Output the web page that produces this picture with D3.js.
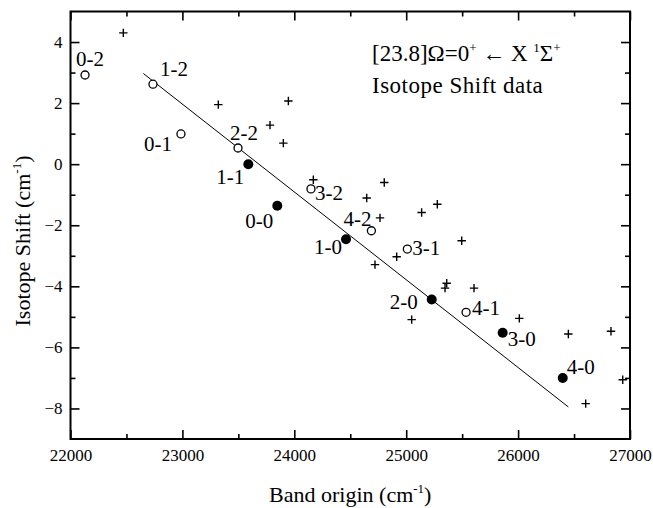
<!DOCTYPE html>
<html>
<head>
<meta charset="utf-8">
<script src="https://cdn.jsdelivr.net/npm/d3@7"></script>
<style>
  body { margin: 0; background: #fff; }
  svg { font-family: "Liberation Serif", "Times New Roman", serif; }
</style>
</head>
<body>
<div id="chart"></div>
<script>
// open circles: bands with v''=1,2
var openBands = ["0-2", "1-2", "0-1", "2-2", "3-2", "4-2", "3-1", "4-1"];
var openX = [22130, 22737, 22987, 23497, 24149, 24689, 25010, 25535];
var openY = [2.92, 2.62, 0.99, 0.53, -0.81, -2.18, -2.78, -4.85];

// filled circles: bands with v''=0
var filledBands = ["1-1", "0-0", "1-0", "2-0", "3-0", "4-0"];
var filledX = [23589, 23848, 24462, 25228, 25862, 26399];
var filledY = [0.0, -1.36, -2.46, -4.43, -5.52, -7.0];

// plus markers
var plusX = [22472, 23321, 23947, 23783, 23902, 24170, 24804, 24647, 25278, 25138, 24766, 25496,
             24915, 24721, 25362, 25347, 25606, 25049, 26011, 26449, 26830, 26935, 26604];
var plusY = [4.30, 1.95, 2.07, 1.28, 0.69, -0.51, -0.60, -1.11, -1.31, -1.58, -1.76, -2.51,
             -3.03, -3.29, -3.90, -4.06, -4.06, -5.09, -5.05, -5.56, -5.47, -7.06, -7.84];

// fitted line end points
var fitX = [22651, 26449];
var fitY = [2.97, -7.95];

var xTicks = [22000, 23000, 24000, 25000, 26000, 27000];
var yTicks = [-8, -6, -4, -2, 0, 2, 4];

// label placement relative to its point (pixels)
var labelOffset = {
    "0-2": [-9, -9], "1-2": [7, -8], "0-1": [-37, 17], "2-2": [-8, -8],
    "3-2": [4, 11], "4-2": [-28, -5], "3-1": [5, 6], "4-1": [6, 3],
    "1-1": [-32, 20], "0-0": [-32, 22], "1-0": [-32, 15], "2-0": [-42, 10],
    "3-0": [5, 13], "4-0": [4, -4]
};

var width = 653, height = 508;
var plotL = 70.5, plotR = 630, plotT = 11.5, plotB = 439;

var svg = d3.select("#chart").append("svg")
    .attr("width", width)
    .attr("height", height);

var x = d3.scaleLinear().domain([22000, 27000]).range([plotL, plotR]);
var y = d3.scaleLinear().domain([-9, 5]).range([plotB, plotT]);

var xMinor = d3.range(22500, 27000, 1000);
var yMinor = d3.range(-7, 5, 2);

// axes, ticks pointing inward
function styleAxis(g) {
    g.select(".domain").remove();
    g.selectAll(".tick line").attr("stroke", "#000").attr("stroke-width", 1.6);
    g.selectAll(".tick text").attr("fill", "#000").style("font-size", "17px")
        .style("font-family", "'Liberation Serif', 'Times New Roman', serif");
}

svg.append("g")
    .attr("transform", "translate(0," + plotB + ")")
    .call(d3.axisBottom(x).tickValues(xTicks).tickSize(-9).tickPadding(10).tickFormat(d3.format("d")))
    .call(styleAxis);
svg.append("g")
    .attr("transform", "translate(0," + plotB + ")")
    .call(d3.axisBottom(x).tickValues(xMinor).tickSize(-5).tickFormat(""))
    .call(styleAxis);
svg.append("g")
    .attr("transform", "translate(0," + plotT + ")")
    .call(d3.axisTop(x).tickValues(xTicks).tickSize(-9).tickFormat(""))
    .call(styleAxis);
svg.append("g")
    .attr("transform", "translate(0," + plotT + ")")
    .call(d3.axisTop(x).tickValues(xMinor).tickSize(-5).tickFormat(""))
    .call(styleAxis);

svg.append("g")
    .attr("transform", "translate(" + plotL + ",0)")
    .call(d3.axisLeft(y).tickValues(yTicks).tickSize(-9).tickPadding(8).tickFormat(d3.format("d")))
    .call(styleAxis);
svg.append("g")
    .attr("transform", "translate(" + plotL + ",0)")
    .call(d3.axisLeft(y).tickValues(yMinor).tickSize(-5).tickFormat(""))
    .call(styleAxis);
svg.append("g")
    .attr("transform", "translate(" + plotR + ",0)")
    .call(d3.axisRight(y).tickValues(yTicks).tickSize(-9).tickFormat(""))
    .call(styleAxis);
svg.append("g")
    .attr("transform", "translate(" + plotR + ",0)")
    .call(d3.axisRight(y).tickValues(yMinor).tickSize(-5).tickFormat(""))
    .call(styleAxis);

// frame
svg.append("rect")
    .attr("x", plotL).attr("y", plotT)
    .attr("width", plotR - plotL).attr("height", plotB - plotT)
    .attr("fill", "none").attr("stroke", "#000").attr("stroke-width", 2);

// fit line
svg.append("line")
    .attr("x1", x(fitX[0])).attr("y1", y(fitY[0]))
    .attr("x2", x(fitX[1])).attr("y2", y(fitY[1]))
    .attr("stroke", "#000").attr("stroke-width", 1);

// plus markers
var plus = d3.range(plusX.length);
svg.append("g").selectAll("path")
    .data(plus)
    .enter().append("path")
    .attr("d", function (i) {
        var px = x(plusX[i]), py = y(plusY[i]);
        return "M" + (px - 4.2) + "," + py + "H" + (px + 4.2) +
               "M" + px + "," + (py - 4.2) + "V" + (py + 4.2);
    })
    .attr("stroke", "#000").attr("stroke-width", 1.4).attr("fill", "none");

// open circles
svg.append("g").selectAll("circle")
    .data(d3.range(openBands.length))
    .enter().append("circle")
    .attr("cx", function (i) { return x(openX[i]); })
    .attr("cy", function (i) { return y(openY[i]); })
    .attr("r", 4)
    .attr("fill", "#fff").attr("stroke", "#000").attr("stroke-width", 1.3);

// filled circles
svg.append("g").selectAll("circle")
    .data(d3.range(filledBands.length))
    .enter().append("circle")
    .attr("cx", function (i) { return x(filledX[i]); })
    .attr("cy", function (i) { return y(filledY[i]); })
    .attr("r", 5)
    .attr("fill", "#000");

// band labels
var labels = [];
openBands.forEach(function (b, i) { labels.push({ name: b, vx: openX[i], vy: openY[i] }); });
filledBands.forEach(function (b, i) { labels.push({ name: b, vx: filledX[i], vy: filledY[i] }); });

svg.append("g").selectAll("text")
    .data(labels)
    .enter().append("text")
    .attr("x", function (d) { return x(d.vx) + labelOffset[d.name][0]; })
    .attr("y", function (d) { return y(d.vy) + labelOffset[d.name][1]; })
    .style("font-size", "21px")
    .text(function (d) { return d.name; });

// title block
var t1 = svg.append("text").attr("x", 372).attr("y", 61).style("font-size", "23px");
t1.append("tspan").text("[23.8]\u03A9=0");
t1.append("tspan").attr("dy", -9).style("font-size", "13px").text("+");
t1.append("tspan").attr("dy", 9).text(" \u2190 X ");
t1.append("tspan").attr("dy", -9).style("font-size", "13px").text("1");
t1.append("tspan").attr("dy", 9).text("\u03A3");
t1.append("tspan").attr("dy", -9).style("font-size", "13px").text("+");

svg.append("text").attr("x", 372).attr("y", 93).style("font-size", "23px")
    .style("letter-spacing", "0.5px")
    .text("Isotope Shift data");

// axis titles
var xt = svg.append("text")
    .attr("x", (plotL + plotR) / 2).attr("y", 502)
    .attr("text-anchor", "middle").style("font-size", "22px");
xt.append("tspan").text("Band origin (cm");
xt.append("tspan").attr("dy", -9).style("font-size", "13px").text("-1");
xt.append("tspan").attr("dy", 9).text(")");

var yt = svg.append("text")
    .attr("transform", "translate(30,241) rotate(-90)")
    .attr("text-anchor", "middle").style("font-size", "22px");
yt.append("tspan").text("Isotope Shift (cm");
yt.append("tspan").attr("dy", -9).style("font-size", "13px").text("-1");
yt.append("tspan").attr("dy", 9).text(")");
</script>
</body>
</html>
